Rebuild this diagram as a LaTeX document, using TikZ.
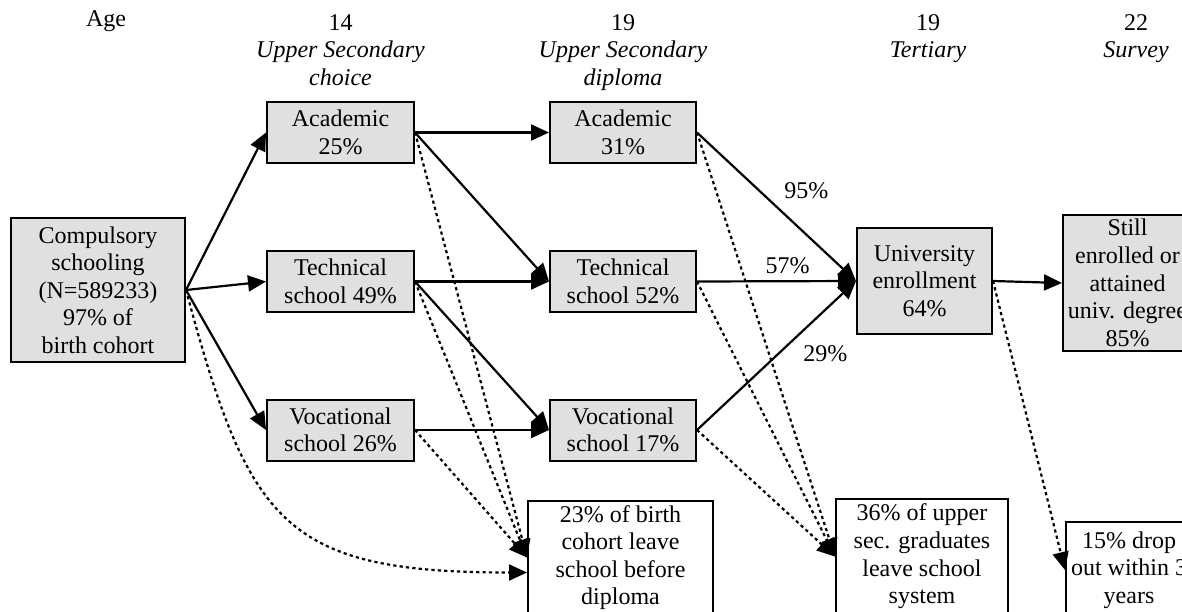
\documentclass[tikz,border=0pt]{standalone}
\usepackage{fontspec}
\setmainfont{Liberation Serif}
\usetikzlibrary{arrows.meta}
\definecolor{boxgray}{RGB}{224,224,224}

\begin{document}
\begin{tikzpicture}[x=0.5pt, y=-0.5pt,
        font=\fontsize{12}{13.8}\selectfont,
        gbox/.style={draw, line width=1pt, fill=boxgray, align=center, inner sep=0pt},
        wbox/.style={draw, line width=1pt, fill=white, align=center, inner sep=0pt},
        head/.style={align=center, anchor=north, inner sep=0pt},
        move/.style={line width=1.1pt, -{Triangle[length=9pt, width=8pt]}},
        quit/.style={move, dash pattern=on 1.6pt off 1.6pt}]
        \useasboundingbox (0,0) rectangle (1182,611);
        \clip (0,0) rectangle (1182,611);
        \node[head] (age) at (106, 10) {Age};
        \node[head] (hchoice) at (340.5, 14) {14\\\textit{Upper Secondary}\\\textit{choice}};
        \node[head] (hdiploma) at (623, 14) {19\\\textit{Upper Secondary}\\\textit{diploma}};
        \node[head] (htertiary) at (928, 14) {19\\\textit{Tertiary}};
        \node[head] (hsurvey) at (1136, 14) {22\\\textit{Survey}};
        \node[gbox, minimum width=87pt, minimum height=72pt] (comp) at (98, 290) {Compulsory\\schooling\\(N=589233)\\97\% of\\birth cohort};
        \node[gbox, minimum width=73.5pt, minimum height=30.5pt] (aca1) at (340.5, 132.5) {Academic\\25\%};
        \node[gbox, minimum width=73.5pt, minimum height=30.5pt] (tec1) at (340.5, 281.5) {Technical\\school 49\%};
        \node[gbox, minimum width=73.5pt, minimum height=30.5pt] (voc1) at (340.5, 430) {Vocational\\school 26\%};
        \node[gbox, minimum width=73pt, minimum height=30.5pt] (aca2) at (623, 132.5) {Academic\\31\%};
        \node[gbox, minimum width=73pt, minimum height=30.5pt] (tec2) at (623, 281.5) {Technical\\school 52\%};
        \node[gbox, minimum width=73pt, minimum height=30.5pt] (voc2) at (623, 430) {Vocational\\school 17\%};
        \node[gbox, minimum width=67.5pt, minimum height=53pt] (uni) at (924.5, 281) {University\\enrollment\\64\%};
        \node[gbox, minimum width=64.5pt, minimum height=68pt] (still) at (1127.5, 283) {Still\\enrolled or\\attained\\univ. degree\\85\%};
        \node[wbox, minimum width=92.5pt, minimum height=56.5pt] (drop23) at (620.5, 557.5) {23\% of birth\\cohort leave\\school before\\diploma};
        \node[wbox, minimum width=86pt, minimum height=57.5pt] (drop36) at (922, 556.5) {36\% of upper\\sec. graduates\\leave school\\system};
        \node[wbox, minimum width=63pt, minimum height=48pt] (drop15) at (1129, 570) {15\% drop\\out within 3\\years};
        \draw[move] (comp.east) -- (aca1.west);
        \draw[move] (comp.east) -- (tec1.west);
        \draw[move] (comp.east) -- (voc1.west);
        \draw[move] (aca1.east) -- (aca2.west);
        \draw[move] (aca1.east) -- (tec2.west);
        \draw[move] (tec1.east) -- (tec2.west);
        \draw[move] (tec1.east) -- (voc2.west);
        \draw[move] (voc1.east) -- (voc2.west);
        \draw[move] (aca2.east) -- node[pos=0.5, above right] {95\%} (uni.west);
        \draw[move] (tec2.east) -- node[pos=0.57, above] {57\%} (uni.west);
        \draw[move] (voc2.east) -- node[pos=0.62, below right] {29\%} (uni.west);
        \draw[move] (uni.east) -- (still.west);
        \draw[quit] (comp.east) to[out=-75, in=180, looseness=1.4] ([yshift=-7.5pt]drop23.west);
        \draw[quit] (aca1.east) -- (drop23.west);
        \draw[quit] (tec1.east) -- (drop23.west);
        \draw[quit] (voc1.east) -- (drop23.west);
        \draw[quit] (aca2.east) -- (drop36.west);
        \draw[quit] (tec2.east) -- (drop36.west);
        \draw[quit] (voc2.east) -- (drop36.west);
        \draw[quit] (uni.east) -- (drop15.west);
    \end{tikzpicture}
\end{document}
